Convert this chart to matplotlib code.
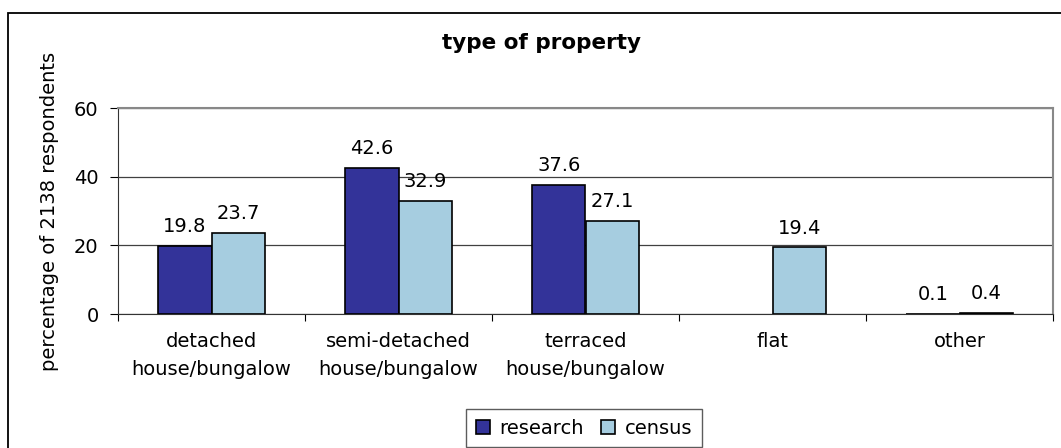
import numpy as np
import matplotlib.pyplot as plt
from matplotlib.patches import Rectangle

categories = ['detached\nhouse/bungalow', 'semi-detached\nhouse/bungalow',
              'terraced\nhouse/bungalow', 'flat', 'other']
research = [19.8, 42.6, 37.6, np.nan, 0.1]
census = [23.7, 32.9, 27.1, 19.4, 0.4]
yticks = [0, 20, 40, 60]

plt.rcParams['font.family'] = ['DejaVu Sans']

fig = plt.figure(figsize=(10.61, 4.48), dpi=100)
ax = fig.add_axes([118/1061, 1-314/448, (1053-118)/1061, (314-108)/448])

# outer chart border (clipped at right/bottom like the original)
fig.patches.append(Rectangle((8/1061, -0.1), 1.2, 1-13/448+0.1,
                             transform=fig.transFigure, fill=False,
                             edgecolor='black', linewidth=1.3))

x = np.arange(len(categories))
w = 0.285
ax.bar(x - w/2, research, w, color='#333399', edgecolor='black',
       linewidth=1.2, label='research', zorder=3)
ax.bar(x + w/2, census, w, color='#a6cde0', edgecolor='black',
       linewidth=1.2, label='census', zorder=3)

for xi, v in zip(x - w/2, research):
    if not np.isnan(v):
        ax.annotate(f'{v}', (xi, v), xytext=(0, 7), textcoords='offset points',
                    ha='center', va='bottom', fontsize=14)
for xi, v in zip(x + w/2, census):
    ax.annotate(f'{v}', (xi, v), xytext=(0, 7), textcoords='offset points',
                ha='center', va='bottom', fontsize=14)

ax.set_xlim(-0.5, len(categories) - 0.5)
ax.set_ylim(0, 60)
ax.set_yticks(yticks)
ax.yaxis.grid(True, color='#404040', linewidth=0.9, zorder=0)
ax.set_axisbelow(True)
ax.tick_params(axis='y', direction='out', length=6, labelsize=14, pad=8)
ax.set_xticks(np.arange(len(categories) + 1) - 0.5)
ax.set_xticklabels([])
ax.set_xticks(x, minor=True)
ax.set_xticklabels(categories, minor=True, fontsize=14, linespacing=1.6)
ax.tick_params(axis='x', which='major', direction='out', length=5)
ax.tick_params(axis='x', which='minor', length=0, pad=13)

for s in ['left', 'bottom']:
    ax.spines[s].set_color('#333333')
for s in ['top', 'right']:
    ax.spines[s].set_color('#888888')
    ax.spines[s].set_linewidth(1.5)

fig.text(541/1061, 1-43/448, 'type of property', ha='center', va='center',
         fontsize=15.5, fontweight='bold')
fig.text(50/1061, 1-211/448, 'percentage of 2138 respondents', rotation=90,
         ha='center', va='center', fontsize=14)

leg = ax.legend(loc='center', bbox_to_anchor=(584/1061, 1-428/448),
                bbox_transform=fig.transFigure, ncol=2, fontsize=14,
                frameon=True, fancybox=False, handlelength=0.7,
                handleheight=0.7, handletextpad=0.5, columnspacing=0.9,
                borderpad=0.5, borderaxespad=0)
leg.get_frame().set_edgecolor('#333333')
leg.get_frame().set_linewidth(1)

fig.savefig('out.png', dpi=100)
